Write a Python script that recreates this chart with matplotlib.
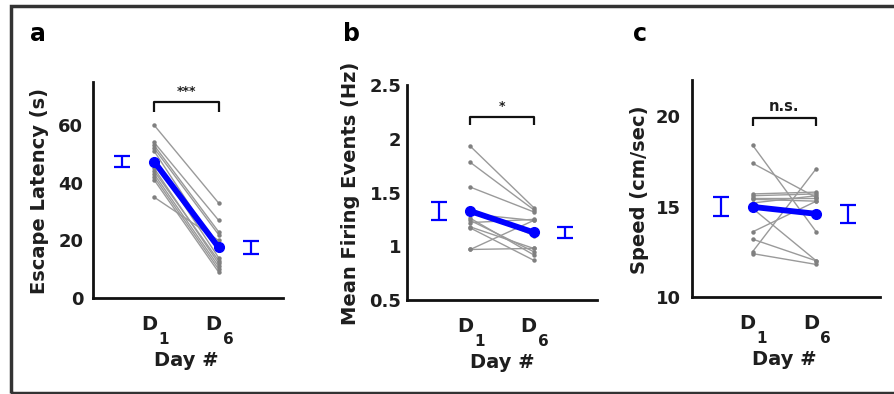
import numpy as np
import matplotlib
matplotlib.use("Agg")
import matplotlib.pyplot as plt
from matplotlib.patches import Rectangle

# per-mouse values, day 1 and day 6
latency_d1 = [60, 54, 53, 52, 51, 48, 45, 44, 43, 42, 41, 35]
latency_d6 = [33, 27, 23, 22, 17, 14, 12, 13, 11, 10, 9, 20]

firing_d1 = [1.93, 1.78, 1.55, 1.30, 1.26, 1.24, 1.22, 1.18, 1.17, 0.97, 0.97, 1.35]
firing_d6 = [1.36, 1.34, 1.32, 1.24, 0.92, 0.95, 1.25, 0.98, 0.87, 1.24, 0.98, 1.10]

speed_d1 = [18.4, 17.4, 15.7, 15.5, 15.4, 15.2, 13.6, 13.2, 12.5, 12.4, 15.6, 14.9]
speed_d6 = [13.6, 15.5, 15.8, 15.5, 15.3, 15.6, 15.3, 12.0, 17.1, 11.8, 15.7, 12.0]

days = ["1", "6"]
sig_labels = ["***", "*", "n.s."]
ylabels = ["Escape Latency (s)", "Mean Firing Events (Hz)", "Speed (cm/sec)"]
panel_letters = ["a", "b", "c"]
yticks = [[0, 20, 40, 60], [0.5, 1, 1.5, 2, 2.5], [10, 15, 20]]
yticklabels = [["0", "20", "40", "60"], ["0.5", "1", "1.5", "2", "2.5"], ["10", "15", "20"]]
ylims = [(0, 75), (0.5, 2.5), (10, 22)]
brackets = [(68.0, 64.6), (2.20, 2.13), (19.9, 19.45)]

day_x = [1, 2]
sem_x = [0.5, 2.5]

fig = plt.figure(figsize=(8.94, 3.94), dpi=100)

# outer frame
fig.patches.append(Rectangle((10.5 / 894, 1.5 / 394), 1.0, (387.0) / 394,
                             transform=fig.transFigure, fill=False,
                             edgecolor="#333333", linewidth=2.5, clip_on=False))

axes_pos = [
    (93 / 894, 96 / 394, 190 / 894, 216 / 394),
    (407 / 894, 94 / 394, 190 / 894, 215 / 394),
    (692 / 894, 97 / 394, 188 / 894, 217 / 394),
]
xlims = [(0.05, 3.0), (0.0, 3.0), (0.05, 3.0)]
tick_pad = [7, 4, 8]
ylab_x = [-0.279, -0.30, -0.277]
letter_x = [30 / 894, 343 / 894, 633 / 894]

data = [(latency_d1, latency_d6), (firing_d1, firing_d6), (speed_d1, speed_d6)]
grey_line = "#9a9a9a"
grey_pt = "#808080"
blue = "#0000ff"
txt = "#1e1e1e"

for k in range(3):
    ax = fig.add_axes(axes_pos[k])
    d1, d6 = data[k]
    for a, b in zip(d1, d6):
        ax.plot(day_x, [a, b], color=grey_line, lw=1.0, zorder=2)
        ax.plot(day_x, [a, b], "o", color=grey_pt, ms=3.2, mec="none", zorder=3)
    m = [np.mean(d1), np.mean(d6)]
    sem = [np.std(d1, ddof=1) / np.sqrt(len(d1)), np.std(d6, ddof=1) / np.sqrt(len(d6))]
    ax.plot(day_x, m, "-o", color=blue, lw=4.2, ms=7, zorder=5)
    ax.errorbar(sem_x, m, yerr=sem, fmt="none", ecolor=blue, elinewidth=1.6,
                capsize=6, capthick=1.6, zorder=4)

    # significance bracket
    top, tip = brackets[k]
    ax.plot([day_x[0], day_x[0], day_x[1], day_x[1]], [tip, top, top, tip],
            color="#111111", lw=1.6, solid_capstyle="butt", zorder=6)
    ax.annotate(sig_labels[k], xy=(np.mean(day_x), top), xytext=(0, 3),
                textcoords="offset points", ha="center", va="bottom",
                fontsize=9 if k < 2 else 10.5, fontweight="bold", color=txt)

    ax.set_xlim(*xlims[k])
    ax.set_ylim(*ylims[k])
    ax.set_yticks(yticks[k])
    ax.set_yticklabels(yticklabels[k])
    ax.set_xticks([])
    ax.tick_params(axis="y", length=0, pad=tick_pad[k], labelsize=13, labelcolor=txt)
    for lab in ax.get_yticklabels():
        lab.set_fontweight("bold")
    for s in ["top", "right"]:
        ax.spines[s].set_visible(False)
    for s in ["left", "bottom"]:
        ax.spines[s].set_linewidth(2.0)
        ax.spines[s].set_color("#111111")

    # D with subscript day numbers
    trans = ax.get_xaxis_transform()
    for xv, dn in zip(day_x, days):
        ax.annotate("D", xy=(xv, 0), xycoords=trans, xytext=(2, -12),
                    textcoords="offset points", ha="right", va="top",
                    fontsize=14, fontweight="bold", color=txt, annotation_clip=False)
        ax.annotate(dn, xy=(xv, 0), xycoords=trans, xytext=(3, -24.5),
                    textcoords="offset points", ha="left", va="top",
                    fontsize=11, fontweight="bold", color=txt, annotation_clip=False)
    ax.annotate("Day #", xy=(np.mean(day_x), 0), xycoords=trans, xytext=(0, -38),
                textcoords="offset points", ha="center", va="top",
                fontsize=14, fontweight="bold", color=txt, annotation_clip=False)

    ax.text(ylab_x[k], 0.495, ylabels[k], transform=ax.transAxes, rotation=90,
            ha="center", va="center", fontsize=14, fontweight="bold", color=txt)

    fig.text(letter_x[k], 0.896, panel_letters[k], ha="left", va="baseline",
             fontsize=17, fontweight="bold", color="#000000")

fig.savefig("out.png", dpi=100)
